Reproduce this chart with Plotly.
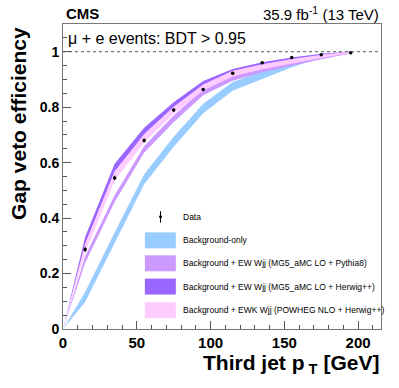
import plotly.graph_objects as go

# ---------------- data ----------------
pt_points = [0, 15, 35, 55, 75, 95, 115, 135, 155, 175, 195]

bkg_eff = [0, 0.115, 0.33, 0.54, 0.675, 0.795, 0.875, 0.916, 0.955, 0.985, 0.998]
bkg_unc = [0, 0.018, 0.018, 0.018, 0.018, 0.017, 0.016, 0.014, 0.011, 0.007, 0.003]

pythia_eff = [0, 0.25, 0.47, 0.648, 0.758, 0.854, 0.905, 0.935, 0.958, 0.979, 0.997]
pythia_unc = [0, 0.012, 0.012, 0.012, 0.012, 0.011, 0.010, 0.009, 0.008, 0.006, 0.003]

herwig_eff = [0, 0.318, 0.582, 0.713, 0.806, 0.884, 0.929, 0.954, 0.972, 0.988, 0.999]
herwig_unc = [0, 0.014, 0.014, 0.013, 0.012, 0.010, 0.009, 0.008, 0.007, 0.005, 0.002]

powheg_eff = [0, 0.292, 0.551, 0.688, 0.789, 0.871, 0.921, 0.946, 0.966, 0.983, 0.998]
powheg_unc = [0, 0.016, 0.016, 0.015, 0.013, 0.011, 0.010, 0.009, 0.008, 0.006, 0.003]

data_pt = [15, 35, 55, 75, 95, 115, 135, 155, 175, 195]
data_eff = [0.287, 0.545, 0.680, 0.790, 0.864, 0.922, 0.960, 0.979, 0.989, 0.996]
data_err = [0.009, 0.008, 0.007, 0.006, 0.005, 0.004, 0.003, 0.003, 0.002, 0.002]

legend_labels = [
    "Data",
    "Background-only",
    "Background + EW Wjj (MG5_aMC LO + Pythia8)",
    "Background + EW Wjj (MG5_aMC LO + Herwig++)",
    "Background + EWK Wjj (POWHEG NLO + Herwig++)",
]

# ---------------- layout geometry ----------------
W, H = 399, 388
L, R, T, B = 63, 17.5, 24, 58.5
PW, PH = W - L - R, H - T - B
FONT = "Liberation Sans"


def px(xp):
    return (xp - L) / PW


def py(yp):
    return (H - B - yp) / PH


fig = go.Figure()

bands = [
    (bkg_eff, bkg_unc, "#99ccff"),
    (pythia_eff, pythia_unc, "#cc99ff"),
    (herwig_eff, herwig_unc, "#9966ff"),
    (powheg_eff, powheg_unc, "#ffccff"),
]
for eff, unc, col in bands:
    up = [e + u for e, u in zip(eff, unc)]
    lo = [e - u for e, u in zip(eff, unc)]
    fig.add_trace(go.Scatter(
        x=pt_points + pt_points[::-1],
        y=up + lo[::-1],
        fill="toself", fillcolor=col, mode="lines",
        line=dict(width=0, color=col), hoverinfo="skip", showlegend=False,
    ))

fig.add_trace(go.Scatter(
    x=data_pt, y=data_eff, mode="markers",
    marker=dict(color="black", size=3.5, symbol="circle"),
    error_y=dict(type="data", array=data_err, color="black", thickness=1, width=0),
    showlegend=False,
))

shapes = []
shapes.append(dict(type="line", xref="paper", yref="y", x0=0, x1=1, y0=1, y1=1,
                   line=dict(color="#555555", width=1, dash="dot")))

row_y = [217, 240.7, 263.7, 287, 310.7]
colors = [None, "#99ccff", "#cc99ff", "#9966ff", "#ffccff"]
for i, yc in enumerate(row_y):
    if i == 0:
        shapes.append(dict(type="line", xref="paper", yref="paper",
                           x0=px(160.7), x1=px(160.7), y0=py(223), y1=py(211.5),
                           line=dict(color="black", width=1)))
        shapes.append(dict(type="circle", xref="paper", yref="paper",
                           x0=px(159.2), x1=px(162.2), y0=py(218.5), y1=py(215.5),
                           fillcolor="black", line=dict(width=0)))
    else:
        shapes.append(dict(type="rect", xref="paper", yref="paper",
                           x0=px(145), x1=px(176), y0=py(yc + 8), y1=py(yc - 8),
                           fillcolor=colors[i], line=dict(width=0)))

annotations = []
for lab, yc in zip(legend_labels, row_y):
    annotations.append(dict(text=lab, xref="paper", yref="paper", x=px(181.5), y=py(yc),
                            xanchor="left", yanchor="middle", showarrow=False,
                            font=dict(family=FONT, size=8.5, color="black")))

annotations += [
    dict(text="<b>CMS</b>", xref="paper", yref="paper", x=px(64), y=py(13),
         xanchor="left", yanchor="middle", showarrow=False,
         font=dict(family=FONT, size=15, color="black")),
    dict(text="35.9 fb<sup>-1</sup> (13 TeV)", xref="paper", yref="paper", x=px(382), y=py(13),
         xanchor="right", yanchor="middle", showarrow=False,
         font=dict(family=FONT, size=15, color="black")),
    dict(text="\u03bc + e events: BDT > 0.95", xref="paper", yref="paper", x=px(66), y=py(39),
         xanchor="left", yanchor="middle", showarrow=False,
         font=dict(family=FONT, size=16, color="black")),
    dict(text="<b>Third jet p<sub> T</sub> [GeV]</b>", xref="paper", yref="paper",
         x=px(382), y=py(365), xanchor="right", yanchor="middle", showarrow=False,
         font=dict(family=FONT, size=21, color="black")),
    dict(text="<b>Gap veto efficiency</b>", xref="paper", yref="paper", textangle=-90,
         x=px(19), y=py(124), xanchor="center", yanchor="middle", showarrow=False,
         font=dict(family=FONT, size=21, color="black")),
]

fig.update_layout(
    width=W, height=H,
    margin=dict(l=L, r=R, t=T, b=B, pad=0),
    paper_bgcolor="white", plot_bgcolor="white",
    showlegend=False,
    shapes=shapes, annotations=annotations,
    font=dict(family=FONT, color="black"),
    xaxis=dict(range=[0, 215.5], tickmode="linear", tick0=0, dtick=50,
               ticks="inside", ticklen=8, tickcolor="#555", showgrid=False, zeroline=False,
               showline=True, linecolor="#777", linewidth=1, mirror=True,
               tickfont=dict(family=FONT, size=15, color="black", weight="bold"),
               minor=dict(dtick=10, ticks="inside", ticklen=4, tickcolor="#555", showgrid=False)),
    yaxis=dict(range=[0, 1.1], tickmode="linear", tick0=0, dtick=0.2,
               ticks="inside", ticklen=8, tickcolor="#555", showgrid=False, zeroline=False,
               showline=True, linecolor="#777", linewidth=1, mirror=True,
               tickfont=dict(family=FONT, size=14, color="black", weight="bold"),
               minor=dict(dtick=0.05, ticks="inside", ticklen=4, tickcolor="#555", showgrid=False)),
)

fig.write_html("out.html", config={"displayModeBar": False},
               post_script="document.body.style.margin='0';")
